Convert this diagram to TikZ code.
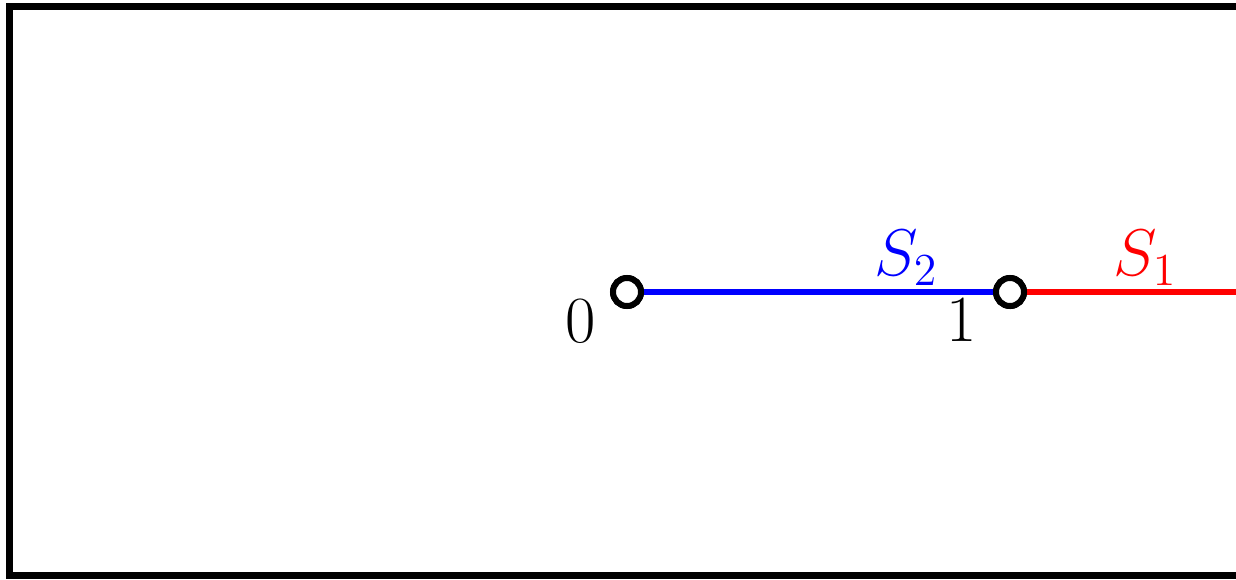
\documentclass[tikz,border=0pt]{standalone}
\begin{document}
\begin{tikzpicture}[x=0.5pt,y=-0.5pt,
  pt/.style={circle,draw=black,fill=white,line width=3pt,minimum size=14pt,inner sep=0pt},
  seg/.style={line width=3pt},
  lab/.style={font=\huge,inner sep=0pt}]
\newcommand{\bigtxt}[1]{\scalebox{1.59}{#1}}
\useasboundingbox (0,0) rectangle (1236,579);
\draw[line width=3.5pt] (1300,6.5) -- (9.5,6.5) -- (9.5,575.5) -- (1300,575.5);
\coordinate (e) at (1240,292);
\node[pt] (a) at (627,292) {};
\node[pt] (b) at (1010,292) {};
\draw[seg,blue] (a) -- (b);
\draw[seg,red] (b) -- (e);
\node[pt] at (a) {};
\node[pt] at (b) {};
\node[lab] (l0) at (581,321) {\bigtxt{$0$}};
\node[lab] (l1) at (962,320) {\bigtxt{$1$}};
\node[lab,text=blue] (s2) at (906,258) {\bigtxt{$S_2$}};
\node[lab,text=red] (s1) at (1145,258) {\bigtxt{$S_1$}};
\end{tikzpicture}
\end{document}
